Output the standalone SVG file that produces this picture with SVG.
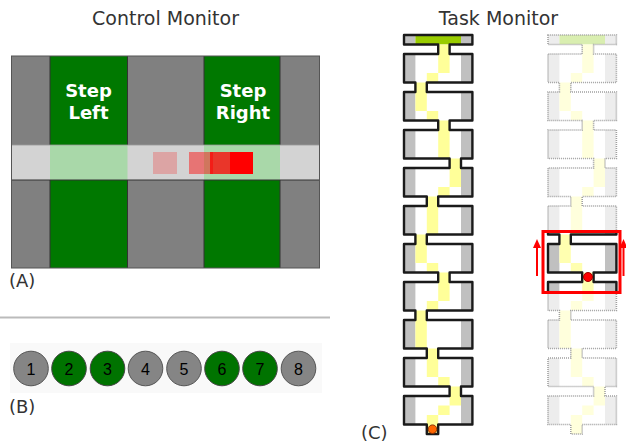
<svg xmlns="http://www.w3.org/2000/svg" xmlns:xlink="http://www.w3.org/1999/xlink" width="626" height="446" viewBox="0 0 626 446">
<style>
.title{font-family:"DejaVu Sans",Verdana,sans-serif;font-size:19px;fill:#333;text-anchor:middle}
.lbl{font-family:"DejaVu Sans",Verdana,sans-serif;font-size:18px;fill:#333}
.step{font-family:"DejaVu Sans",Verdana,sans-serif;font-size:18px;font-weight:bold;fill:#fff;text-anchor:middle}
.num{font-family:"Liberation Sans",Arial,sans-serif;font-size:16px;fill:#000;text-anchor:middle}
.cg{fill:#858585;stroke:#555;stroke-width:1}
.cn{fill:#007300;stroke:#444;stroke-width:1}
.wall{fill:none;stroke:#1a1a1a;stroke-width:2.4;stroke-linejoin:round}
.wallf{fill:none;stroke:#a0a0a0;stroke-width:1.6;stroke-dasharray:1 1}
.strip{fill:#c0c0c0}.stripf{fill:#ededed}
.yp{fill:#ffff99}.ypf{fill:#ffffdc}.yph{fill:#ffffb0}
.top{fill:#99cc00}.topf{fill:#d9eeb0}
</style>
<defs>
<polygon id="mz" points="404,35 404,44.5 438.2,44.5 438.2,54 404,54 404,82.5 415.4,82.5 415.4,92 404,92 404,120.5 438.2,120.5 438.2,130 404,130 404,158.5 449.6,158.5 449.6,168 404,168 404,196.5 426.8,196.5 426.8,206 404,206 404,234.5 415.4,234.5 415.4,244 404,244 404,272.5 438.2,272.5 438.2,282 404,282 404,310.5 415.4,310.5 415.4,320 404,320 404,348.5 426.8,348.5 426.8,358 404,358 404,386.5 449.6,386.5 449.6,396 404,396 404,424.5 426.8,424.5 426.8,434 438.2,434 438.2,424.5 472.4,424.5 472.4,396 461,396 461,386.5 472.4,386.5 472.4,358 438.2,358 438.2,348.5 472.4,348.5 472.4,320 426.8,320 426.8,310.5 472.4,310.5 472.4,282 449.6,282 449.6,272.5 472.4,272.5 472.4,244 426.8,244 426.8,234.5 472.4,234.5 472.4,206 438.2,206 438.2,196.5 472.4,196.5 472.4,168 461,168 461,158.5 472.4,158.5 472.4,130 449.6,130 449.6,120.5 472.4,120.5 472.4,92 426.8,92 426.8,82.5 472.4,82.5 472.4,54 449.6,54 449.6,44.5 472.4,44.5 472.4,35"/>
<clipPath id="clipM"><use xlink:href="#mz"/></clipPath>
<clipPath id="clipH"><rect x="543" y="231.5" width="77" height="61"/></clipPath>
<g id="strips"><rect x="0" y="0" width="1" height="41"/><rect x="5" y="0" width="1" height="41"/></g>
<g id="ypath">
<rect x="3" y="1" width="1" height="3"/><rect x="2" y="4" width="1" height="1"/>
<rect x="1" y="5" width="1" height="3"/><rect x="2" y="8" width="1" height="1"/>
<rect x="3" y="9" width="1" height="4"/><rect x="4" y="13" width="1" height="3"/>
<rect x="3" y="16" width="1" height="1"/><rect x="2" y="17" width="1" height="4"/>
<rect x="1" y="21" width="1" height="3"/><rect x="2" y="24" width="1" height="1"/>
<rect x="3" y="25" width="1" height="3"/><rect x="2" y="28" width="1" height="1"/>
<rect x="1" y="29" width="1" height="4"/><rect x="2" y="33" width="1" height="3"/>
<rect x="3" y="36" width="1" height="1"/><rect x="4" y="37" width="1" height="2"/>
<rect x="3" y="39" width="1" height="1"/><rect x="2" y="40" width="1" height="2"/>
</g>
<g id="topbar"><rect x="1" y="0" width="4" height="1"/></g>
</defs>

<text class="title" x="165.5" y="25">Control Monitor</text>
<text class="title" x="498.5" y="25">Task Monitor</text>

<g id="panelA">
<rect x="11.5" y="56" width="308" height="212" fill="#808080"/>
<rect x="50" y="56" width="77.5" height="212" fill="#007800"/>
<rect x="204" y="56" width="76" height="212" fill="#007800"/>
<g stroke="#333" stroke-width="1">
<line x1="50" y1="56" x2="50" y2="268"/><line x1="127.5" y1="56" x2="127.5" y2="268"/>
<line x1="204" y1="56" x2="204" y2="268"/><line x1="280" y1="56" x2="280" y2="268"/>
</g>
<rect x="11.5" y="145" width="308" height="35" fill="#d3d3d3"/>
<rect x="50" y="145" width="77.5" height="35" fill="#a9d8a9"/>
<rect x="204" y="145" width="76" height="35" fill="#a9d8a9"/>
<line x1="11.5" y1="145" x2="319.5" y2="145" stroke="#999" stroke-width="0.8"/>
<line x1="11.5" y1="180" x2="319.5" y2="180" stroke="#333" stroke-width="1"/>
<rect x="11.5" y="56" width="308" height="212" fill="none" stroke="#555" stroke-width="1"/>
<rect x="153" y="152" width="24" height="22" fill="#ff0000" fill-opacity="0.22"/>
<rect x="189" y="152" width="24" height="22" fill="#ff0000" fill-opacity="0.45"/>
<rect x="210" y="152" width="23" height="22" fill="#ff0000" fill-opacity="0.75"/>
<rect x="230" y="152" width="23" height="22" fill="#ff0000"/>
<text class="step" x="88.5" y="97">Step</text>
<text class="step" x="88.5" y="119">Left</text>
<text class="step" x="243" y="97">Step</text>
<text class="step" x="243" y="119">Right</text>
<text class="lbl" x="9" y="287">(A)</text>
</g>

<line x1="0" y1="317.5" x2="330" y2="317.5" stroke="#bbb" stroke-width="2"/>

<g id="panelB">
<rect x="10" y="343" width="312" height="50" fill="#f9f9f9"/>
<circle class="cg" cx="31" cy="368.5" r="17.3"/><text class="num" x="31" y="374.5">1</text>
<circle class="cn" cx="69" cy="368.5" r="17.3"/><text class="num" x="69" y="374.5">2</text>
<circle class="cn" cx="107.5" cy="368.5" r="17.3"/><text class="num" x="107.5" y="374.5">3</text>
<circle class="cg" cx="145.5" cy="368.5" r="17.3"/><text class="num" x="145.5" y="374.5">4</text>
<circle class="cg" cx="184" cy="368.5" r="17.3"/><text class="num" x="184" y="374.5">5</text>
<circle class="cn" cx="222" cy="368.5" r="17.3"/><text class="num" x="222" y="374.5">6</text>
<circle class="cn" cx="260" cy="368.5" r="17.3"/><text class="num" x="260" y="374.5">7</text>
<circle class="cg" cx="298.5" cy="368.5" r="17.3"/><text class="num" x="298.5" y="374.5">8</text>
<text class="lbl" x="9" y="413">(B)</text>
</g>

<g id="mazeLeft">
<use xlink:href="#mz" fill="#fff"/>
<g clip-path="url(#clipM)">
<g transform="translate(404,35) scale(11.4,9.5)">
<use xlink:href="#strips" class="strip"/>
<use xlink:href="#topbar" class="top"/>
<use xlink:href="#ypath" class="yp"/>
</g>
</g>
<use xlink:href="#mz" class="wall"/>
<circle cx="432.5" cy="429.2" r="4.3" fill="#ff6600" stroke="#8a3000" stroke-width="1"/>
</g>

<g id="mazeRight" transform="translate(144,0)">
<use xlink:href="#mz" fill="#fff"/>
<g clip-path="url(#clipM)">
<g transform="translate(404,35) scale(11.4,9.5)">
<use xlink:href="#strips" class="stripf"/>
<use xlink:href="#topbar" class="topf"/>
<use xlink:href="#ypath" class="ypf"/>
</g>
</g>
<use xlink:href="#mz" class="wallf"/>
</g>

<g id="highlight">
<g clip-path="url(#clipH)">
<rect x="543" y="231" width="77" height="62" fill="#fff"/>
<g transform="translate(144,0)">
<use xlink:href="#mz" fill="#fff"/>
<g clip-path="url(#clipM)">
<g transform="translate(404,35) scale(11.4,9.5)">
<use xlink:href="#strips" class="strip"/>
<use xlink:href="#ypath" class="yph"/>
</g>
</g>
<use xlink:href="#mz" class="wall"/>
</g>
</g>
<rect x="543" y="231.5" width="77" height="61" fill="none" stroke="#ff0000" stroke-width="3"/>
<circle cx="588" cy="277" r="4.5" fill="#ff0000" stroke="#a00000" stroke-width="1"/>
<g fill="#ff0000" stroke="#ff0000">
<line x1="537" y1="247" x2="537" y2="276" stroke-width="2"/>
<polygon points="533,248 537,239 541,248" stroke="none"/>
<line x1="623.5" y1="247" x2="623.5" y2="276" stroke-width="2"/>
<polygon points="619.5,248 623.5,239 627.5,248" stroke="none"/>
</g>
</g>

<text class="lbl" x="361" y="439">(C)</text>
</svg>
